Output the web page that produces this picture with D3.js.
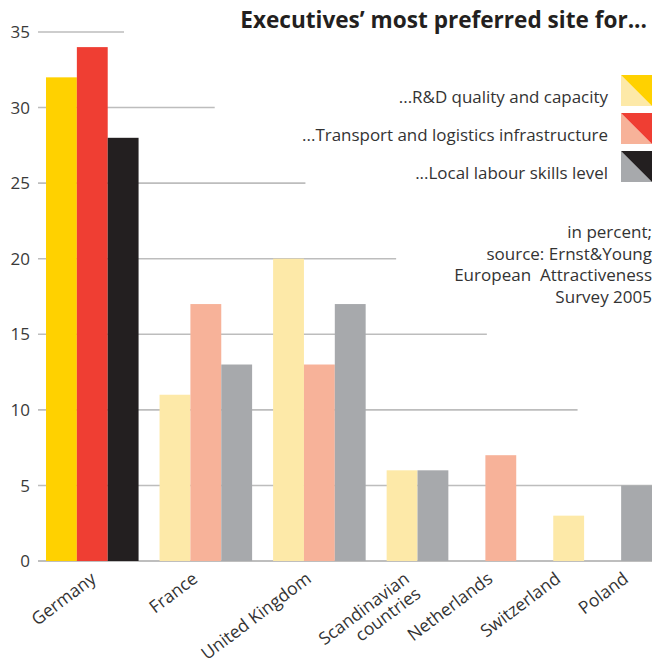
<!DOCTYPE html>
<html><head><meta charset="utf-8">
<script src="https://cdn.jsdelivr.net/npm/d3@7"></script>
<style>body{margin:0;background:#fff}</style></head>
<body>
<svg id="c" width="659" height="663"></svg>
<script>
const categories = ["Germany","France","United Kingdom","Scandinavian countries","Netherlands","Switzerland","Poland"];
const categoryLines = [["Germany"],["France"],["United Kingdom"],["Scandinavian","countries"],["Netherlands"],["Switzerland"],["Poland"]];
const seriesNames = ["...R&D quality and capacity","...Transport and logistics infrastructure","...Local labour skills level"];
const rdQuality    = [32, 11, 20, 6,    null, 3,    null];
const transport    = [34, 17, 13, null, 7,    null, null];
const labourSkills = [28, 13, 17, 6,    null, null, 5];
const yTicks = [0, 5, 10, 15, 20, 25, 30, 35];
const titleText = "Executives\u2019 most preferred site for...";
const noteLines = ["in percent;", "source: Ernst&Young", "European\u00a0 Attractiveness", "Survey 2005"];
const strongColors = ["#FFD100", "#EF3E33", "#231F20"];
const lightColors  = ["#FDE9A8", "#F7B299", "#A7A9AC"];
const highlighted = "Germany";

const series = [rdQuality, transport, labourSkills];
const svg = d3.select("#c");
const FONT = "'Open Sans', sans-serif";

// Y scale
const y = d3.scaleLinear().domain([0, 35]).range([561, 32]);

// X layout: bars packed per category, only existing values
const groups = [];
let cursor = 0;
categories.forEach((c, i) => {
  const bars = series.map((s, k) => ({k, v: s[i]})).filter(d => d.v != null);
  groups.push({cat: c, i, start: cursor, bars});
  cursor += bars.length;
  if (i < categories.length - 1) cursor += (bars.length === 3 ? 0.68 : 1.2);
});
const x = d3.scaleLinear().domain([0, cursor]).range([46, 652]);

// staircase gridlines
const gridEnd = d3.scaleLinear().domain([35, 0]).range([124, 759]);
svg.append("g").selectAll("line").data(yTicks).join("line")
  .attr("x1", 38).attr("x2", d => Math.min(652, gridEnd(d)))
  .attr("y1", d => y(d)).attr("y2", d => y(d))
  .attr("stroke", d => d === 0 ? "#A9A9A9" : "#BDBDBD").attr("stroke-width", 1.6);

// y tick labels
svg.append("g").selectAll("text").data(yTicks).join("text")
  .attr("x", 30).attr("y", d => y(d)).attr("dy", "0.36em")
  .attr("text-anchor", "end").attr("font-family", FONT).attr("font-size", 17)
  .attr("fill", "#3a3a3a").text(d => d);

// bars
const gBars = svg.append("g");
groups.forEach(g => {
  g.bars.forEach((b, j) => {
    gBars.append("rect")
      .attr("x", x(g.start + j)).attr("width", x(g.start + j + 1) - x(g.start + j))
      .attr("y", y(b.v)).attr("height", y(0) - y(b.v))
      .attr("fill", g.cat === highlighted ? strongColors[b.k] : lightColors[b.k]);
  });
});

// x labels
groups.forEach((g, gi) => {
  const off = g.cat === highlighted ? 5 : -7;
  const cx = (x(g.start) + x(g.start + g.bars.length)) / 2 + off;
  const t = svg.append("text")
    .attr("transform", `translate(${cx},581) rotate(-37)`)
    .attr("text-anchor", "end").attr("font-family", FONT).attr("font-size", 17.5)
    .attr("fill", "#333");
  categoryLines[gi].forEach((line, li) => {
    t.append("tspan").attr("x", 0).attr("y", li * 19).text(line);
  });
});

// fit helper
function fitSize(sel, targetW, base) {
  const w = sel.node().getComputedTextLength();
  return base * targetW / w;
}

// title
const title = svg.append("text").attr("x", 647).attr("y", 28)
  .attr("text-anchor", "end").attr("font-family", "'Liberation Sans Narrow', 'Open Sans', sans-serif")
  .attr("font-weight", "bold").attr("font-size", 25).attr("fill", "#231F20").text(titleText);
title.attr("font-size", fitSize(title, 407, 25));

// legend
const leg = svg.append("g");
seriesNames.forEach((name, k) => {
  const top = 75 + k * 38;
  const g = leg.append("g").attr("transform", `translate(621,${top})`);
  g.append("path").attr("d", "M0,0L0,31L31,31Z").attr("fill", lightColors[k]);
  g.append("path").attr("d", "M0,0L31,0L31,31Z").attr("fill", strongColors[k]);
  leg.append("text").attr("class", "lt").attr("x", 608).attr("y", top + 28)
    .attr("text-anchor", "end").attr("font-family", FONT).attr("font-size", 16)
    .attr("fill", "#333").text(name);
});
const longest = leg.selectAll("text.lt").filter((d, i) => i === 1);
const legSize = fitSize(longest, 306, 16);
leg.selectAll("text.lt").attr("font-size", legSize);

// note
const note = svg.append("g");
noteLines.forEach((l, i) => {
  note.append("text").attr("x", 652).attr("y", 238 + i * 21.7)
    .attr("text-anchor", "end").attr("font-family", FONT).attr("font-size", 16)
    .attr("fill", "#333").text(l);
});
const nl = note.selectAll("text").filter((d, i) => i === 2);
note.selectAll("text").attr("font-size", fitSize(nl, 198, 16));
</script>
</body></html>
